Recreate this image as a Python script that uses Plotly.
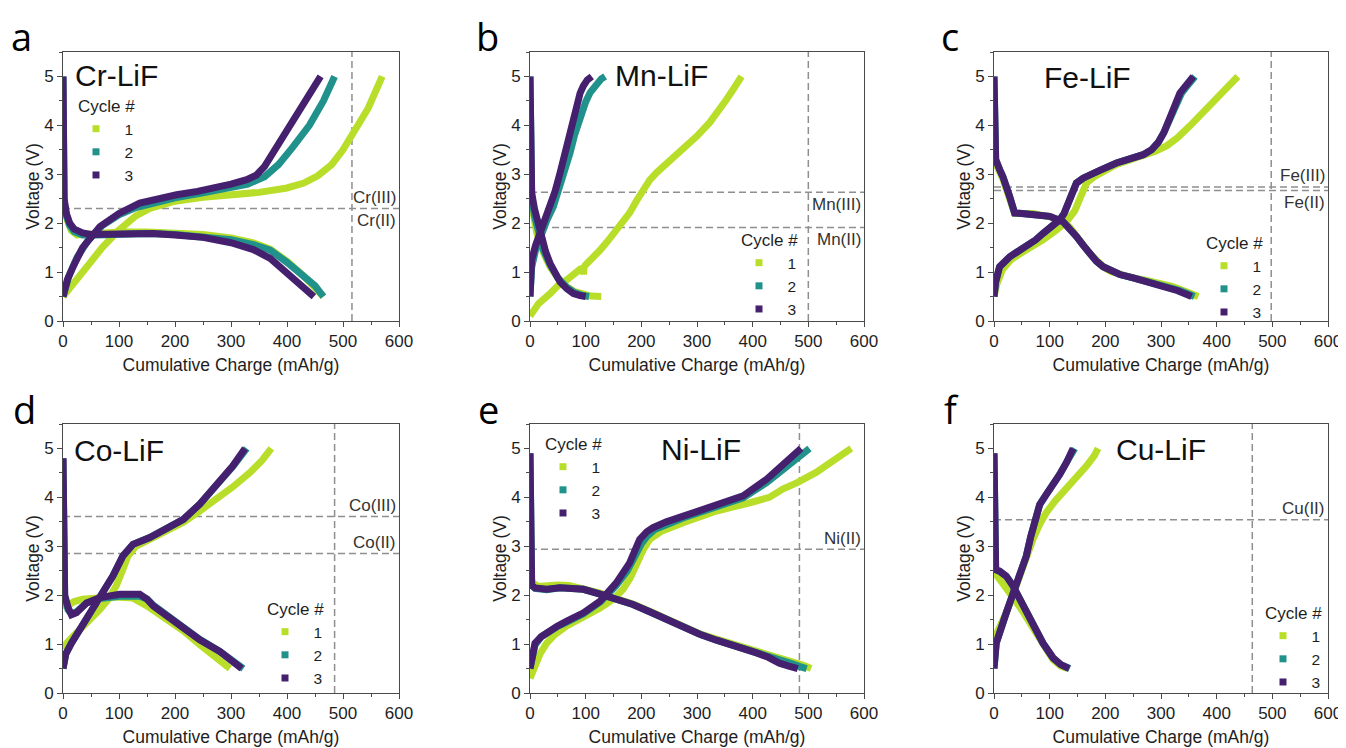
import plotly.graph_objects as go

# ---------------- data (cumulative charge in mAh/g, voltage in V) ----------------
# Panel a : Cr-LiF
CR_DIS_Q1 = [0, 3, 8, 15, 25, 50, 100, 150, 200, 250, 300, 340, 370, 400, 430, 455, 465]
CR_DIS_V1 = [2.5, 2.3, 2.05, 1.85, 1.76, 1.78, 1.82, 1.82, 1.80, 1.77, 1.70, 1.60, 1.47, 1.22, 0.92, 0.65, 0.5]
CR_DIS_Q2 = [0, 0, 2, 6, 12, 20, 35, 60, 100, 150, 200, 250, 300, 340, 370, 400, 430, 450, 465]
CR_DIS_V2 = [5.0, 2.7, 2.45, 2.15, 1.95, 1.83, 1.76, 1.76, 1.78, 1.79, 1.77, 1.73, 1.66, 1.56, 1.45, 1.20, 0.93, 0.72, 0.5]
CR_DIS_Q3 = [0, 0, 2, 6, 12, 20, 35, 50, 80, 120, 160, 200, 250, 300, 340, 370, 400, 425, 448]
CR_DIS_V3 = [5.0, 2.8, 2.5, 2.2, 2.0, 1.88, 1.8, 1.77, 1.78, 1.80, 1.79, 1.76, 1.71, 1.60, 1.46, 1.28, 0.98, 0.74, 0.5]
CR_CHG_Q1 = [0, 20, 42, 70, 100, 130, 155, 200, 250, 300, 350, 400, 430, 455, 480, 500, 520, 545, 570]
CR_CHG_V1 = [0.5, 0.8, 1.11, 1.5, 1.86, 2.15, 2.3, 2.45, 2.53, 2.58, 2.63, 2.72, 2.82, 2.97, 3.2, 3.5, 3.9, 4.35, 5.0]
CR_CHG_Q2 = [0, 10, 25, 45, 70, 100, 130, 160, 200, 250, 300, 330, 360, 385, 410, 440, 465, 485]
CR_CHG_V2 = [0.5, 0.9, 1.3, 1.65, 1.95, 2.17, 2.32, 2.42, 2.52, 2.62, 2.72, 2.8, 2.95, 3.2, 3.55, 4.0, 4.5, 5.0]
CR_CHG_Q3 = [0, 8, 18, 35, 66, 100, 137, 170, 203, 240, 274, 300, 328, 345, 360, 381, 405, 423, 440, 460]
CR_CHG_V3 = [0.5, 0.85, 1.11, 1.5, 1.93, 2.2, 2.41, 2.5, 2.58, 2.65, 2.72, 2.8, 2.89, 2.98, 3.16, 3.55, 4.0, 4.32, 4.62, 5.0]

# Panel b : Mn-LiF
MN_DIS_Q1 = [0, 5, 12, 24, 36, 50, 66, 80, 96, 110, 128]
MN_DIS_V1 = [2.6, 2.2, 1.8, 1.4, 1.11, 0.88, 0.7, 0.6, 0.54, 0.51, 0.5]
MN_DIS_Q2 = [0, 0, 3, 8, 15, 24, 36, 50, 65, 80, 95, 106]
MN_DIS_V2 = [5.0, 2.8, 2.55, 2.15, 1.8, 1.45, 1.15, 0.88, 0.7, 0.58, 0.52, 0.5]
MN_DIS_Q3 = [0, 0, 3, 8, 18, 28, 36, 46, 54, 66, 78, 90, 100]
MN_DIS_V3 = [5.0, 2.9, 2.62, 2.3, 1.8, 1.42, 1.18, 0.95, 0.8, 0.66, 0.56, 0.52, 0.5]
MN_CHG_Q1 = [0, 3, 15, 36, 50, 66, 80, 90, 95, 96, 97, 100, 110, 126, 140, 155, 167, 179, 191, 203, 215, 227, 250, 275, 300, 323, 340, 353, 367, 380]
MN_CHG_V1 = [0.1, 0.15, 0.35, 0.56, 0.72, 0.84, 0.98, 1.06, 1.08, 0.95, 1.1, 1.15, 1.25, 1.45, 1.64, 1.86, 2.03, 2.21, 2.45, 2.69, 2.88, 3.03, 3.27, 3.51, 3.78, 4.06, 4.3, 4.53, 4.77, 5.0]
MN_CHG_Q2 = [0, 3, 10, 20, 30, 42, 55, 65, 72, 80, 90, 100, 108, 118, 128, 135]
MN_CHG_V2 = [0.5, 1.1, 1.45, 1.8, 2.05, 2.34, 2.8, 3.15, 3.44, 3.8, 4.19, 4.48, 4.67, 4.84, 4.95, 5.0]
MN_CHG_Q3 = [0, 3, 10, 18, 27, 36, 45, 54, 63, 72, 78, 84, 90, 96, 103, 111]
MN_CHG_V3 = [0.5, 1.25, 1.55, 1.8, 2.05, 2.35, 2.65, 3.03, 3.45, 3.85, 4.2, 4.47, 4.66, 4.81, 4.93, 5.0]

# Panel c : Fe-LiF
FE_DIS_Q1 = [0, 3, 10, 16, 28, 37, 50, 70, 100, 124, 136, 148, 160, 172, 184, 196, 210, 226, 250, 274, 300, 320, 334, 345, 355, 367]
FE_DIS_V1 = [3.3, 3.2, 3.05, 2.9, 2.5, 2.2, 2.2, 2.2, 2.13, 2.03, 1.92, 1.76, 1.56, 1.38, 1.22, 1.11, 1.01, 0.95, 0.88, 0.83, 0.77, 0.71, 0.65, 0.59, 0.55, 0.5]
FE_DIS_Q2 = [0, 0, 3, 10, 16, 28, 37, 50, 70, 100, 124, 136, 148, 160, 172, 184, 196, 210, 226, 250, 274, 297, 318, 334, 347, 360]
FE_DIS_V2 = [5.0, 3.5, 3.3, 3.1, 2.95, 2.55, 2.21, 2.2, 2.19, 2.14, 2.03, 1.9, 1.73, 1.55, 1.38, 1.22, 1.11, 1.02, 0.95, 0.88, 0.81, 0.75, 0.69, 0.62, 0.56, 0.5]
FE_DIS_Q3 = [0, 0, 3, 10, 16, 28, 37, 50, 70, 100, 124, 136, 148, 160, 172, 184, 196, 210, 226, 250, 274, 295, 315, 330, 342, 355]
FE_DIS_V3 = [5.0, 3.5, 3.3, 3.1, 2.95, 2.55, 2.21, 2.2, 2.19, 2.14, 2.03, 1.9, 1.73, 1.55, 1.38, 1.22, 1.11, 1.02, 0.95, 0.88, 0.81, 0.75, 0.69, 0.62, 0.56, 0.5]
FE_CHG_Q1 = [0, 5, 15, 30, 50, 70, 88, 110, 130, 145, 154, 160, 166, 180, 200, 220, 245, 268, 290, 310, 330, 352, 375, 400, 420, 438]
FE_CHG_V1 = [0.5, 0.75, 1.05, 1.25, 1.4, 1.52, 1.66, 1.84, 2.03, 2.25, 2.48, 2.68, 2.82, 2.95, 3.08, 3.2, 3.3, 3.37, 3.47, 3.58, 3.75, 3.99, 4.25, 4.53, 4.76, 5.0]
FE_CHG_Q2 = [0, 3, 10, 20, 28, 40, 58, 75, 88, 100, 110, 118, 126, 132, 136, 142, 148, 160, 172, 190, 220, 245, 268, 283, 295, 305, 314, 322, 330, 337, 344, 353, 361]
FE_CHG_V2 = [0.5, 0.8, 1.11, 1.25, 1.31, 1.4, 1.52, 1.66, 1.79, 1.9, 2.0, 2.07, 2.2, 2.38, 2.55, 2.72, 2.82, 2.92, 2.99, 3.08, 3.23, 3.32, 3.4, 3.5, 3.65, 3.85, 4.08, 4.32, 4.53, 4.66, 4.76, 4.88, 5.0]
FE_CHG_Q3 = [0, 3, 10, 20, 28, 40, 58, 75, 88, 100, 110, 118, 126, 132, 136, 142, 148, 160, 172, 190, 220, 245, 268, 283, 295, 305, 313, 320, 327, 334, 341, 350, 358]
FE_CHG_V3 = [0.5, 0.8, 1.11, 1.25, 1.31, 1.4, 1.52, 1.66, 1.79, 1.9, 2.0, 2.07, 2.2, 2.38, 2.55, 2.72, 2.82, 2.92, 2.99, 3.08, 3.23, 3.32, 3.4, 3.5, 3.65, 3.85, 4.08, 4.32, 4.53, 4.66, 4.76, 4.88, 5.0]

# Panel d : Co-LiF
CO_DIS_Q1 = [0, 0, 3, 10, 20, 35, 55, 80, 100, 125, 150, 185, 215, 244, 270, 298]
CO_DIS_V1 = [3.9, 1.9, 1.75, 1.8, 1.87, 1.92, 1.95, 1.96, 1.96, 1.94, 1.78, 1.5, 1.27, 0.99, 0.75, 0.5]
CO_DIS_Q2 = [0, 0, 3, 9, 15, 24, 42, 66, 101, 137, 150, 161, 203, 244, 280, 300, 322]
CO_DIS_V2 = [4.8, 2.2, 1.98, 1.7, 1.62, 1.66, 1.84, 1.93, 1.98, 1.98, 1.92, 1.8, 1.45, 1.1, 0.85, 0.7, 0.5]
CO_DIS_Q3 = [0, 0, 3, 9, 15, 24, 42, 66, 101, 137, 150, 161, 203, 244, 280, 300, 319]
CO_DIS_V3 = [4.8, 2.3, 2.0, 1.75, 1.6, 1.64, 1.84, 1.95, 2.02, 2.02, 1.92, 1.78, 1.43, 1.09, 0.85, 0.68, 0.5]
CO_CHG_Q1 = [0, 5, 20, 40, 66, 80, 95, 106, 116, 130, 155, 185, 215, 244, 274, 304, 334, 355, 372]
CO_CHG_V1 = [0.9, 1.0, 1.18, 1.4, 1.71, 1.9, 2.19, 2.5, 2.8, 3.0, 3.15, 3.3, 3.49, 3.72, 3.96, 4.22, 4.51, 4.75, 5.0]
CO_CHG_Q2 = [0, 5, 15, 42, 66, 89, 107, 125, 155, 185, 215, 244, 274, 304, 328]
CO_CHG_V2 = [0.5, 0.8, 1.02, 1.5, 1.98, 2.39, 2.8, 3.04, 3.18, 3.35, 3.55, 3.86, 4.23, 4.64, 5.0]
CO_CHG_Q3 = [0, 5, 15, 42, 66, 89, 107, 125, 155, 185, 215, 244, 274, 303, 325]
CO_CHG_V3 = [0.5, 0.8, 1.02, 1.5, 1.98, 2.39, 2.8, 3.04, 3.18, 3.35, 3.55, 3.86, 4.23, 4.64, 5.0]

# Panel e : Ni-LiF
NI_DIS_Q1 = [0, 5, 15, 30, 50, 70, 96, 126, 155, 185, 215, 245, 275, 305, 335, 353, 380, 407, 430, 450, 470, 490, 505]
NI_DIS_V1 = [2.35, 2.25, 2.18, 2.2, 2.21, 2.2, 2.14, 2.04, 1.93, 1.82, 1.67, 1.51, 1.36, 1.21, 1.1, 1.04, 0.95, 0.86, 0.79, 0.73, 0.65, 0.57, 0.5]
NI_DIS_Q2 = [0, 0, 3, 9, 20, 30, 54, 96, 126, 155, 185, 215, 245, 275, 305, 335, 353, 380, 407, 430, 450, 470, 485, 497]
NI_DIS_V2 = [4.9, 2.4, 2.2, 2.14, 2.11, 2.11, 2.15, 2.12, 2.02, 1.92, 1.81, 1.66, 1.5, 1.35, 1.2, 1.08, 1.02, 0.93, 0.84, 0.75, 0.68, 0.6, 0.54, 0.5]
NI_DIS_Q3 = [0, 0, 3, 9, 20, 30, 54, 96, 126, 155, 185, 215, 245, 275, 305, 335, 353, 380, 407, 428, 448, 465, 481]
NI_DIS_V3 = [4.9, 2.4, 2.2, 2.15, 2.12, 2.12, 2.15, 2.12, 2.02, 1.92, 1.81, 1.66, 1.5, 1.35, 1.2, 1.08, 1.02, 0.93, 0.82, 0.73, 0.61, 0.55, 0.5]
NI_CHG_Q1 = [0, 8, 18, 30, 45, 66, 96, 126, 150, 167, 180, 191, 203, 215, 235, 275, 335, 395, 430, 454, 480, 514, 545, 577]
NI_CHG_V1 = [0.3, 0.55, 0.8, 1.02, 1.2, 1.37, 1.55, 1.74, 1.92, 2.12, 2.35, 2.66, 2.92, 3.14, 3.3, 3.48, 3.72, 3.89, 4.0, 4.17, 4.3, 4.51, 4.74, 5.0]
NI_CHG_Q2 = [0, 4, 9, 20, 30, 48, 66, 96, 126, 155, 175, 190, 200, 210, 225, 275, 335, 383, 425, 460, 485, 502]
NI_CHG_V2 = [0.5, 0.8, 0.98, 1.15, 1.23, 1.35, 1.45, 1.62, 1.86, 2.2, 2.5, 2.85, 3.05, 3.2, 3.35, 3.58, 3.8, 3.99, 4.3, 4.62, 4.85, 5.0]
NI_CHG_Q3 = [0, 4, 9, 20, 30, 48, 66, 96, 126, 155, 179, 190, 197, 210, 221, 245, 275, 335, 383, 425, 460, 487]
NI_CHG_V3 = [0.5, 0.82, 1.02, 1.15, 1.23, 1.36, 1.47, 1.64, 1.88, 2.25, 2.66, 2.95, 3.14, 3.3, 3.38, 3.5, 3.62, 3.83, 4.03, 4.37, 4.71, 5.0]

# Panel f : Cu-LiF
CU_DIS_Q1 = [0, 5, 15, 25, 34, 50, 70, 88, 106, 120, 132]
CU_DIS_V1 = [2.45, 2.4, 2.25, 2.1, 1.98, 1.7, 1.33, 0.98, 0.68, 0.55, 0.5]
CU_DIS_Q2 = [0, 0, 3, 10, 22, 34, 52, 70, 88, 106, 120, 136]
CU_DIS_V2 = [4.9, 2.6, 2.52, 2.49, 2.39, 2.19, 1.78, 1.4, 1.02, 0.72, 0.58, 0.5]
CU_DIS_Q3 = [0, 0, 3, 10, 22, 34, 52, 70, 88, 106, 120, 135]
CU_DIS_V3 = [4.9, 2.6, 2.52, 2.49, 2.39, 2.19, 1.78, 1.4, 1.02, 0.72, 0.58, 0.5]
CU_CHG_Q1 = [0, 4, 22, 40, 58, 70, 82, 94, 110, 130, 150, 166, 180, 187]
CU_CHG_V1 = [1.1, 1.2, 1.64, 2.19, 2.8, 3.14, 3.45, 3.69, 3.93, 4.17, 4.42, 4.64, 4.85, 5.0]
CU_CHG_Q2 = [0, 1, 4, 22, 40, 58, 66, 74, 82, 94, 106, 118, 130, 145]
CU_CHG_V2 = [0.5, 0.8, 1.02, 1.64, 2.19, 2.8, 3.2, 3.6, 3.85, 4.06, 4.25, 4.47, 4.71, 5.0]
CU_CHG_Q3 = [0, 1, 4, 22, 40, 58, 66, 74, 82, 94, 106, 118, 130, 142]
CU_CHG_V3 = [0.5, 0.8, 1.02, 1.64, 2.19, 2.8, 3.2, 3.6, 3.85, 4.06, 4.25, 4.47, 4.71, 5.0]

PANEL_NAMES = ["Cr-LiF", "Mn-LiF", "Fe-LiF", "Co-LiF", "Ni-LiF", "Cu-LiF"]
PANEL_LETTERS = ["a", "b", "c", "d", "e", "f"]
CYCLES = ["1", "2", "3"]

# reference lines: horizontal voltages and vertical theoretical capacity
REF_V = [[2.30], [2.63, 1.91], [2.74, 2.67], [3.61, 2.85], [2.94], [3.54]]
REF_Q = [516, 500, 498, 485, 484, 464]
# (label, voltage it refers to, side)
REF_LABELS = [
    [("Cr(III)", 2.30, "above"), ("Cr(II)", 2.30, "below")],
    [("Mn(III)", 2.63, "below"), ("Mn(II)", 1.91, "below")],
    [("Fe(III)", 2.74, "above"), ("Fe(II)", 2.67, "below")],
    [("Co(III)", 3.61, "above"), ("Co(II)", 2.85, "above")],
    [("Ni(II)", 2.94, "above")],
    [("Cu(II)", 3.54, "above")],
]

X_TICKS = [0, 100, 200, 300, 400, 500, 600]
Y_TICKS = [0, 1, 2, 3, 4, 5]

DATA = [
    [(CR_DIS_Q1, CR_DIS_V1, CR_CHG_Q1, CR_CHG_V1), (CR_DIS_Q2, CR_DIS_V2, CR_CHG_Q2, CR_CHG_V2), (CR_DIS_Q3, CR_DIS_V3, CR_CHG_Q3, CR_CHG_V3)],
    [(MN_DIS_Q1, MN_DIS_V1, MN_CHG_Q1, MN_CHG_V1), (MN_DIS_Q2, MN_DIS_V2, MN_CHG_Q2, MN_CHG_V2), (MN_DIS_Q3, MN_DIS_V3, MN_CHG_Q3, MN_CHG_V3)],
    [(FE_DIS_Q1, FE_DIS_V1, FE_CHG_Q1, FE_CHG_V1), (FE_DIS_Q2, FE_DIS_V2, FE_CHG_Q2, FE_CHG_V2), (FE_DIS_Q3, FE_DIS_V3, FE_CHG_Q3, FE_CHG_V3)],
    [(CO_DIS_Q1, CO_DIS_V1, CO_CHG_Q1, CO_CHG_V1), (CO_DIS_Q2, CO_DIS_V2, CO_CHG_Q2, CO_CHG_V2), (CO_DIS_Q3, CO_DIS_V3, CO_CHG_Q3, CO_CHG_V3)],
    [(NI_DIS_Q1, NI_DIS_V1, NI_CHG_Q1, NI_CHG_V1), (NI_DIS_Q2, NI_DIS_V2, NI_CHG_Q2, NI_CHG_V2), (NI_DIS_Q3, NI_DIS_V3, NI_CHG_Q3, NI_CHG_V3)],
    [(CU_DIS_Q1, CU_DIS_V1, CU_CHG_Q1, CU_CHG_V1), (CU_DIS_Q2, CU_DIS_V2, CU_CHG_Q2, CU_CHG_V2), (CU_DIS_Q3, CU_DIS_V3, CU_CHG_Q3, CU_CHG_V3)],
]

# ---------------- styling / layout ----------------
W, H = 1346, 748
OFF = 8  # page body margin: the figure is drawn 8 px right/down of the window corner
COLORS = ["#b8de29", "#21918c", "#44206e"]
FONT = "Liberation Sans, Arial, sans-serif"
AX_COL = "#4a4a4a"
TXT = "#1e1e1e"
REF_COL = "#8f8f8f"

# all pixel positions below are window (screenshot) pixels
COLS_PX = [(63, 399), (530, 864), (994, 1328)]
ROWS_PX = [(52, 321), (424, 693)]

LEG_PX = [(76, 90), (739, 224), (1204, 227), (265, 593), (543, 428), (1263, 597)]
TITLE_PX = [(73, 75), (613, 75), (1042, 77), (72, 450), (659, 449), (1114, 449)]
LETTER_PX = [(9, 36), (474, 36), (939, 36), (11, 409), (476, 409), (942, 409)]


def px2x(p):
    return (p - OFF) / W


def px2y(p):
    return 1 - (p - OFF) / H


fig = go.Figure()
layout = dict(
    width=W, height=H, margin=dict(l=0, r=0, t=0, b=0),
    paper_bgcolor="white", plot_bgcolor="white",
    font=dict(family=FONT, color=TXT, size=17),
)
shapes, annotations = [], []

for i in range(6):
    r, c = divmod(i, 3)
    sfx = "" if i == 0 else str(i + 1)
    xa, ya = "x" + sfx, "y" + sfx
    leg = "legend" + sfx
    x0, x1 = COLS_PX[c]
    yt, yb = ROWS_PX[r]
    layout["xaxis" + sfx] = dict(
        domain=[px2x(x0), px2x(x1)], anchor=ya, range=[0, 600],
        tickvals=X_TICKS, ticks="outside", ticklen=5, tickcolor=AX_COL,
        showline=True, linecolor=AX_COL, linewidth=1, mirror=True,
        showgrid=False, zeroline=False,
        minor=dict(dtick=50, tick0=0, ticks="outside", ticklen=3, tickcolor=AX_COL, showgrid=False),
        tickfont=dict(size=17, family=FONT, color=TXT),
        title=dict(text="Cumulative Charge (mAh/g)", font=dict(size=17.5, family=FONT, color=TXT), standoff=8),
        automargin=False,
    )
    layout["yaxis" + sfx] = dict(
        domain=[px2y(yb), px2y(yt)], anchor=xa, range=[0, 5.5],
        tickvals=Y_TICKS, ticks="outside", ticklen=5, tickcolor=AX_COL,
        showline=True, linecolor=AX_COL, linewidth=1, mirror=True,
        showgrid=False, zeroline=False,
        minor=dict(dtick=0.5, tick0=0, ticks="outside", ticklen=3, tickcolor=AX_COL, showgrid=False),
        tickfont=dict(size=17, family=FONT, color=TXT),
        title=dict(text="Voltage (V)", font=dict(size=17.5, family=FONT, color=TXT), standoff=0),
        automargin=False,
    )

    # curves
    for k in range(3):
        dq, dv, cq, cv = DATA[i][k]
        for qq, vv in ((dq, dv), (cq, cv)):
            fig.add_trace(go.Scatter(
                x=qq, y=vv, mode="lines", xaxis=xa, yaxis=ya,
                line=dict(color=COLORS[k], width=7), showlegend=False, hoverinfo="skip",
            ))
    # legend entries
    for k in range(3):
        fig.add_trace(go.Scatter(
            x=[None], y=[None], mode="markers", xaxis=xa, yaxis=ya,
            marker=dict(symbol="square", size=7, color=COLORS[k]),
            name="\u00a0\u00a0" + CYCLES[k], legend=leg, showlegend=True,
        ))
    lx, ly = LEG_PX[i]
    layout[leg] = dict(
        x=px2x(lx), y=px2y(ly), xanchor="left", yanchor="top",
        bgcolor="rgba(0,0,0,0)", borderwidth=0,
        title=dict(text="Cycle #", font=dict(size=17, family=FONT, color=TXT)),
        font=dict(size=15.5, family=FONT, color=TXT), itemsizing="trace",
        tracegroupgap=0,
    )

    # reference lines
    for v in REF_V[i]:
        shapes.append(dict(type="line", xref=xa + " domain", yref=ya, x0=0, x1=1, y0=v, y1=v,
                           line=dict(color=REF_COL, width=1.5, dash="7px,4px"), layer="below"))
    shapes.append(dict(type="line", xref=xa, yref=ya + " domain", x0=REF_Q[i], x1=REF_Q[i], y0=0, y1=1,
                       line=dict(color=REF_COL, width=1.5, dash="7px,4px"), layer="below"))
    for txt, v, side in REF_LABELS[i]:
        annotations.append(dict(
            text=txt, xref=xa, yref=ya, x=600, y=v, xanchor="right", yanchor="middle",
            xshift=-1, yshift=11 if side == "above" else -12, showarrow=False,
            font=dict(size=17, family=FONT, color="#333333"),
        ))

    # panel title
    tx, ty = TITLE_PX[i]
    annotations.append(dict(
        text=PANEL_NAMES[i], xref="paper", yref="paper", x=px2x(tx), y=px2y(ty),
        xanchor="left", yanchor="middle", showarrow=False,
        font=dict(size=30, family=FONT, color="#111111"),
    ))
    # panel letter
    lx2, ly2 = LETTER_PX[i]
    annotations.append(dict(
        text=PANEL_LETTERS[i], xref="paper", yref="paper", x=px2x(lx2), y=px2y(ly2),
        xanchor="left", yanchor="middle", showarrow=False,
        font=dict(size=38, family="Open Sans, sans-serif", color="#000000"),
    ))

layout["shapes"] = shapes
layout["annotations"] = annotations
fig.update_layout(**layout)
fig.write_html("out.html")
